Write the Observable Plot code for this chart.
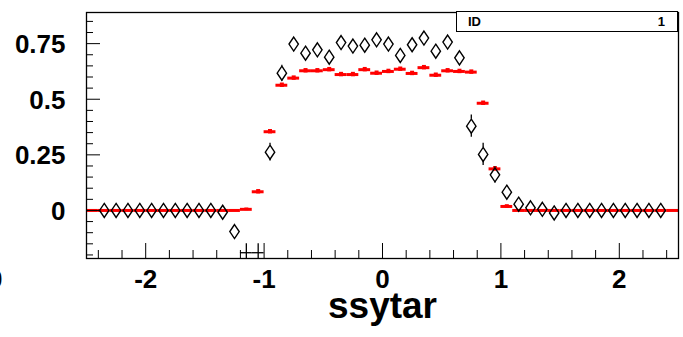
<!DOCTYPE html>
<html><head><meta charset="utf-8">
<script src="https://cdn.jsdelivr.net/npm/d3@7"></script>
<script src="https://cdn.jsdelivr.net/npm/@observablehq/plot@0.6"></script>
<style>
html,body{margin:0;padding:0;background:#fff;color:#000;}
#wrap{position:relative;width:683px;height:337px;overflow:hidden;color:#000;font-family:"Liberation Sans",Arial,Helvetica,sans-serif;}
#stats{position:absolute;left:456px;top:11px;width:220px;height:19px;border:1.5px solid #000;background:#fff;color:#000;font-weight:bold;font-size:13px;line-height:19px;}
#stats .k{position:absolute;left:11px;top:0;}
#stats .v{position:absolute;right:12px;top:0;}
</style></head>
<body>
<div id="wrap"><div id="chart"></div>
<div id="stats"><span class="k">ID</span><span class="v">1</span></div>
</div>
<script>
// Black diamonds (bin centres, values, errors)
const diamondX = [-2.35,-2.25,-2.15,-2.05,-1.95,-1.85,-1.75,-1.65,-1.55,-1.45,-1.35,-1.25,
  -0.95,-0.85,-0.75,-0.65,-0.55,-0.45,-0.35,-0.25,-0.15,-0.05,0.05,0.15,0.25,0.35,0.45,0.55,0.65,
  0.75,0.85,0.95,1.05,1.15,1.25,1.35,1.45,
  1.55,1.65,1.75,1.85,1.95,2.05,2.15,2.25,2.35];
const diamondY = [0,0,0,0,0,0,0,0,0,0,-0.008,-0.095,
  0.262,0.617,0.748,0.707,0.722,0.689,0.755,0.739,0.743,0.767,0.748,0.697,0.745,0.775,0.716,0.757,0.686,
  0.379,0.252,0.160,0.082,0.028,0.012,0.005,-0.011,
  0,0,0,0,0,0,0,0,0];
const diamondErr = [0.02,0.02,0.02,0.02,0.02,0.02,0.02,0.02,0.02,0.02,0.02,0.025,
  0.04,0.036,0.03,0.03,0.03,0.03,0.03,0.03,0.03,0.03,0.03,0.03,0.03,0.03,0.03,0.03,0.03,
  0.05,0.05,0.036,0.03,0.02,0.02,0.02,0.02,
  0.02,0.02,0.02,0.02,0.02,0.02,0.02,0.02,0.02];
// Off-scale points (below the frame): centre, top of error bar, bar level
const offX = [-1.15,-1.05];
const offTop = [-0.15,-0.15];
const offBar = [-0.19,-0.19];
// Red histogram (bins of 0.1 from -2.5 to 2.5)
const redCenter = [-2.45,-2.35,-2.25,-2.15,-2.05,-1.95,-1.85,-1.75,-1.65,-1.55,-1.45,-1.35,-1.25,
  -1.15,-1.05,-0.95,-0.85,-0.75,-0.65,-0.55,-0.45,-0.35,-0.25,-0.15,-0.05,
  0.05,0.15,0.25,0.35,0.45,0.55,0.65,0.75,0.85,0.95,1.05,
  1.15,1.25,1.35,1.45,1.55,1.65,1.75,1.85,1.95,2.05,2.15,2.25,2.35,2.45];
const redValue = [0,0,0,0,0,0,0,0,0,0,0,0,0,
  0.005,0.084,0.354,0.563,0.595,0.628,0.628,0.633,0.611,0.611,0.633,0.617,
  0.625,0.635,0.616,0.642,0.608,0.628,0.625,0.622,0.482,0.187,0.018,
  0,0,0,0,0,0,0,0,0,0,0,0,0,0];
const redErr = [0,0,0,0,0,0,0,0,0,0,0,0,0,
  0.006,0.01,0.01,0.01,0.01,0.01,0.01,0.01,0.01,0.01,0.01,0.01,
  0.01,0.01,0.01,0.01,0.01,0.01,0.01,0.01,0.01,0.01,0.008,
  0,0,0,0,0,0,0,0,0,0,0,0,0,0];
const binHalf = 0.05;
// Axes
const xDomain = [-2.5, 2.5];
const yDomain = [-0.216, 0.89];
const xMajor = [-2,-1,0,1,2];
const xMajorLabels = ["-2","-1","0","1","2"];
const xMinor = [-2.4,-2.2,-1.8,-1.6,-1.4,-1.2,-0.8,-0.6,-0.4,-0.2,0.2,0.4,0.6,0.8,1.2,1.4,1.6,1.8,2.2,2.4];
const yMajor = [0,0.25,0.5,0.75];
const yMajorLabels = ["0","0.25","0.5","0.75"];
const yMinor = [-0.2,-0.15,-0.1,-0.05,0.05,0.1,0.15,0.2,0.3,0.35,0.4,0.45,0.55,0.6,0.65,0.7,0.8,0.85];
const xTitle = "ssytar";
const strayLabel = "0"; // clipped label at the left edge of the original canvas

const W = 683, H = 337, mL = 86, mR = 5, mT = 12, mB = 79;
const innerW = W - mL - mR, innerH = H - mT - mB;
const font = "Liberation Sans, Arial, Helvetica, sans-serif";

const diam = diamondX.map((x,i)=>({x, y: diamondY[i], e: diamondErr[i]}));
const red = redCenter.map((c,i)=>({c, v: redValue[i], e: redErr[i]}));
const off = offX.map((x,i)=>({x, top: offTop[i], bar: offBar[i]}));
const dh = 7 / (innerH / (yDomain[1]-yDomain[0])); // diamond half height in data units

const diamondSymbol = {draw(ctx){ const w=4.7, h=7; ctx.moveTo(0,-h); ctx.lineTo(w,0); ctx.lineTo(0,h); ctx.lineTo(-w,0); ctx.closePath(); }};

const chart = Plot.plot({
  width: W, height: H, marginLeft: mL, marginRight: mR, marginTop: mT, marginBottom: mB,
  style: {fontFamily: font, background: "white", color: "black", overflow: "hidden"},
  x: {domain: xDomain, axis: null},
  y: {domain: yDomain, axis: null},
  marks: [
    // red histogram
    Plot.ruleY(red, {y: "v", x1: d=>d.c-binHalf, x2: d=>d.c+binHalf, stroke: "#ff0000", strokeWidth: 3}),
    Plot.ruleX(red.filter(d=>d.e>0), {x: "c", y1: d=>d.v-d.e, y2: d=>d.v+d.e, stroke: "#ff0000", strokeWidth: 4}),
    // diamond error bars (outside the marker)
    Plot.ruleX(diam.filter(d=>d.e>dh), {x: "x", y1: d=>d.y+dh, y2: d=>d.y+d.e, stroke: "black", strokeWidth: 1.3}),
    Plot.ruleX(diam.filter(d=>d.e>dh), {x: "x", y1: d=>d.y-dh, y2: d=>d.y-d.e, stroke: "black", strokeWidth: 1.3}),
    Plot.dot(diam, {x: "x", y: "y", symbol: diamondSymbol, stroke: "black", strokeWidth: 1.4, fill: "none"}),
    // off-scale points
    Plot.ruleX(off, {x: "x", y1: "top", y2: yDomain[0], stroke: "black", strokeWidth: 1.3}),
    Plot.ruleY(off, {y: "bar", x1: d=>d.x-binHalf, x2: d=>d.x+binHalf, stroke: "black", strokeWidth: 1.3}),
    // ticks inside frame
    Plot.tickY(yMinor, {y: d=>d, insetRight: innerW-7, stroke: "black", strokeWidth: 1}),
    Plot.tickY(yMajor, {y: d=>d, insetRight: innerW-14, stroke: "black", strokeWidth: 1}),
    Plot.tickX(xMinor, {x: d=>d, insetTop: innerH-8, stroke: "black", strokeWidth: 1}),
    Plot.tickX(xMajor, {x: d=>d, insetTop: innerH-15, stroke: "black", strokeWidth: 1}),
    Plot.frame({stroke: "black", strokeWidth: 1.3}),
    // labels
    Plot.text(yMajor, {y: d=>d, text: (d,i)=>yMajorLabels[i], frameAnchor: "left", dx: -21, dy: 1, textAnchor: "end", lineAnchor: "middle", fontSize: 26, fontWeight: "bold", fill: "black"}),
    Plot.text(xMajor, {x: d=>d, text: (d,i)=>xMajorLabels[i], frameAnchor: "bottom", dy: 21, lineAnchor: "middle", fontSize: 26, fontWeight: "bold", fill: "black"}),
    Plot.text([strayLabel], {text: d=>d, frameAnchor: "bottom-left", dx: -84, dy: 21, textAnchor: "end", lineAnchor: "middle", fontSize: 26, fontWeight: "bold", fill: "black"}),
    Plot.text([xTitle], {text: d=>d, frameAnchor: "bottom", dy: 48, lineAnchor: "middle", fontSize: 37, fontWeight: "bold", fill: "black"})
  ]
});
document.getElementById("chart").appendChild(chart);
</script>
</body></html>
